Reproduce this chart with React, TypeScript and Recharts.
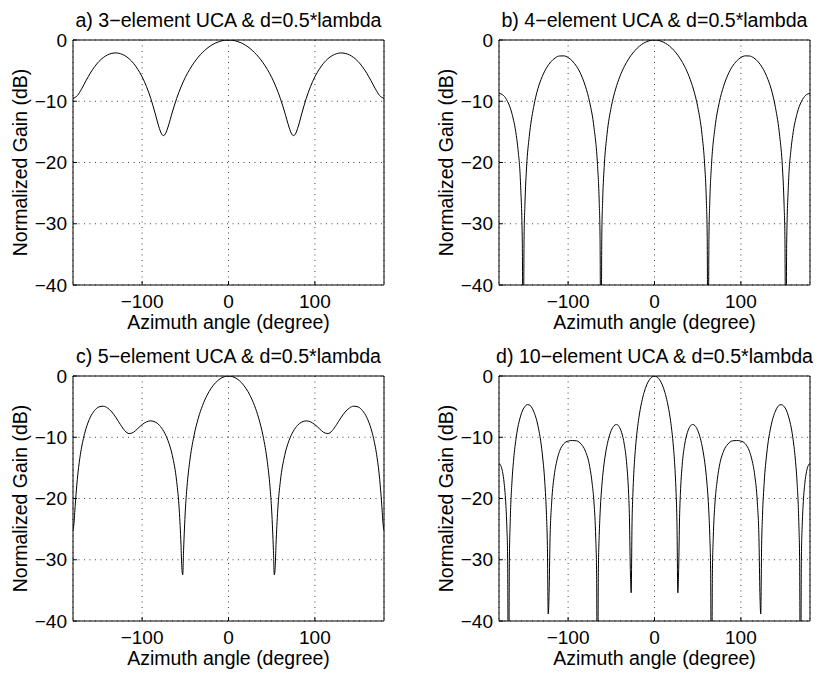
import React from 'react';
import { LineChart, Line, XAxis, YAxis, CartesianGrid } from 'recharts';

// Tick values
const xTicks = [-100, 0, 100];
const yTicks = [-40, -30, -20, -10, 0];

// Panel titles
const titleA = 'a) 3\u2212element UCA & d=0.5*lambda';
const titleB = 'b) 4\u2212element UCA & d=0.5*lambda';
const titleC = 'c) 5\u2212element UCA & d=0.5*lambda';
const titleD = 'd) 10\u2212element UCA & d=0.5*lambda';
const xLabel = 'Azimuth angle (degree)';
const yLabel = 'Normalized Gain (dB)';

// a) 3-element
const anglesA = [
  -180, -175, -170, -165, -160, -155, -150, -145, -140, -135,
  -130, -125, -120, -115, -110, -105, -100, -95, -90, -85,
  -80, -78, -76, -75, -74, -72, -70, -65, -60, -55,
  -50, -45, -40, -35, -30, -25, -20, -15, -10, -5,
  0,
  5, 10, 15, 20, 25, 30, 35, 40, 45, 50,
  55, 60, 65, 70, 72, 74, 75, 76, 78, 80,
  85, 90, 95, 100, 105, 110, 115, 120, 125, 130,
  135, 140, 145, 150, 155, 160, 165, 170, 175, 180,
];
const gainA = [
  -9.54, -9.08, -7.97, -6.66, -5.42, -4.36, -3.51, -2.87, -2.43, -2.18,
  -2.11, -2.24, -2.55, -3.07, -3.8, -4.78, -6.01, -7.58, -9.54, -11.93,
  -14.44, -15.19, -15.58, -15.61, -15.52, -15.01, -14.2, -11.77, -9.54, -7.67,
  -6.11, -4.81, -3.72, -2.8, -2.03, -1.39, -0.88, -0.49, -0.22, -0.05,
  0,
  -0.05, -0.22, -0.49, -0.88, -1.39, -2.03, -2.8, -3.72, -4.81, -6.11,
  -7.67, -9.54, -11.77, -14.2, -15.01, -15.52, -15.61, -15.58, -15.19, -14.44,
  -11.93, -9.54, -7.58, -6.01, -4.78, -3.8, -3.07, -2.55, -2.24, -2.11,
  -2.18, -2.43, -2.87, -3.51, -4.36, -5.42, -6.66, -7.97, -9.08, -9.54,
];

// b) 4-element
const anglesB = [
  -180, -175, -170, -165, -160, -158, -155, -153, -152, -151,
  -150, -148, -145, -140, -135, -130, -125, -120, -115, -110,
  -105, -100, -95, -90, -85, -80, -75, -70, -66, -64,
  -63, -62, -61, -60, -58, -55, -50, -45, -40, -35,
  -30, -25, -20, -15, -10, -5,
  0,
  5, 10, 15, 20, 25, 30, 35, 40, 45, 50,
  55, 58, 60, 61, 62, 63, 64, 66, 70, 75,
  80, 85, 90, 95, 100, 105, 110, 115, 120, 125,
  130, 135, 140, 145, 148, 150, 151, 152, 153, 155,
  158, 160, 165, 170, 175, 180,
];
const gainB = [
  -8.71, -9.03, -10.06, -12.02, -15.57, -17.87, -23.71, -33.25, -60, -32.54,
  -26.92, -20.6, -15.78, -11.02, -7.97, -5.98, -4.55, -3.56, -2.93, -2.61,
  -2.59, -2.86, -3.44, -4.35, -5.67, -7.54, -10.19, -14.31, -20.35, -26.43,
  -32.58, -60, -32.04, -26.16, -20.22, -15.43, -10.89, -8.01, -5.93, -4.35,
  -3.1, -2.11, -1.33, -0.74, -0.33, -0.08,
  0,
  -0.08, -0.33, -0.74, -1.33, -2.11, -3.1, -4.35, -5.93, -8.01, -10.89,
  -15.43, -20.22, -26.16, -32.04, -60, -32.58, -26.43, -20.35, -14.31, -10.19,
  -7.54, -5.67, -4.35, -3.44, -2.86, -2.59, -2.61, -2.93, -3.56, -4.55,
  -5.98, -7.97, -11.02, -15.78, -20.6, -26.92, -32.54, -60, -33.25, -23.71,
  -17.87, -15.57, -12.02, -10.06, -9.03, -8.71,
];

// c) 5-element
const anglesC = [
  -180, -179, -178, -177, -175, -172, -170, -168, -165, -160,
  -155, -150, -145, -140, -135, -130, -125, -120, -115, -110,
  -105, -100, -95, -90, -85, -80, -75, -70, -65, -60,
  -57, -55, -54, -53, -52, -50, -48, -45, -40, -35,
  -30, -25, -20, -15, -10, -5,
  0,
  5, 10, 15, 20, 25, 30, 35, 40, 45, 48,
  50, 52, 53, 54, 55, 57, 60, 65, 70, 75,
  80, 85, 90, 95, 100, 105, 110, 115, 120, 125,
  130, 135, 140, 145, 150, 155, 160, 165, 168, 170,
  172, 175, 177, 178, 179, 180,
];
const gainC = [
  -25.2, -24.27, -22.29, -20.26, -16.87, -13.33, -11.61, -10.23, -8.61, -6.75,
  -5.63, -5.05, -4.93, -5.22, -5.88, -6.84, -7.95, -8.94, -9.4, -9.19,
  -8.57, -7.94, -7.49, -7.33, -7.5, -8.04, -9.02, -10.56, -12.98, -17.22,
  -21.89, -27.52, -31.31, -32.47, -28.48, -22.03, -18.03, -14.07, -9.79, -6.91,
  -4.79, -3.19, -1.98, -1.09, -0.48, -0.12,
  0,
  -0.12, -0.48, -1.09, -1.98, -3.19, -4.79, -6.91, -9.79, -14.07, -18.03,
  -22.03, -28.48, -32.47, -31.31, -27.52, -21.89, -17.22, -12.98, -10.56, -9.02,
  -8.04, -7.5, -7.33, -7.49, -7.94, -8.57, -9.19, -9.4, -8.94, -7.95,
  -6.84, -5.88, -5.22, -4.93, -5.05, -5.63, -6.75, -8.61, -10.23, -11.61,
  -13.33, -16.87, -20.26, -22.29, -24.27, -25.2,
];

// d) 10-element
const anglesD = [
  -180, -178, -176, -174, -172, -171, -170, -169, -168, -167,
  -165, -163, -160, -155, -150, -147, -145, -140, -135, -130,
  -127, -125, -124, -123, -122, -121, -119, -116, -113, -110,
  -105, -100, -95, -90, -85, -80, -75, -72, -70, -68,
  -67, -66, -65, -64, -63, -61, -59, -56, -53, -50,
  -47, -44, -41, -38, -35, -32, -30, -29, -28, -27,
  -26, -25, -24, -22, -20, -18, -15, -12, -9, -6,
  -3,
  0,
  3, 6, 9, 12, 15, 18, 20, 22, 24, 25,
  26, 27, 28, 29, 30, 32, 35, 38, 41, 44,
  47, 50, 53, 56, 59, 61, 63, 64, 65, 66,
  67, 68, 70, 72, 75, 80, 85, 90, 95, 100,
  105, 110, 113, 116, 119, 121, 122, 123, 124, 125,
  127, 130, 135, 140, 145, 147, 150, 155, 160, 163,
  165, 167, 168, 169, 170, 171, 172, 174, 176, 178,
  180,
];
const gainD = [
  -14.26, -14.61, -15.59, -17.55, -21.17, -24.32, -29.87, -60, -30.17, -23.72,
  -17.3, -13.56, -9.94, -6.53, -4.97, -4.68, -4.72, -5.73, -8.08, -12.57,
  -17.33, -22.82, -27.64, -38.86, -35.34, -27.13, -20.6, -16.18, -13.81, -12.32,
  -11.05, -10.63, -10.53, -10.59, -11.11, -12.26, -14.79, -17.73, -20.73, -26.5,
  -32.29, -60, -32.08, -26.04, -22.48, -17.99, -15.05, -12.11, -10.15, -8.87,
  -8.14, -7.91, -8.26, -9.26, -11.14, -14.62, -19.13, -23.14, -31.37, -35.4,
  -23.94, -19.16, -15.95, -11.74, -8.87, -6.73, -4.37, -2.67, -1.44, -0.63,
  -0.16,
  0,
  -0.16, -0.63, -1.44, -2.67, -4.37, -6.73, -8.87, -11.74, -15.95, -19.16,
  -23.94, -35.4, -31.37, -23.14, -19.13, -14.62, -11.14, -9.26, -8.26, -7.91,
  -8.14, -8.87, -10.15, -12.11, -15.05, -17.99, -22.48, -26.04, -32.08, -60,
  -32.29, -26.5, -20.73, -17.73, -14.79, -12.26, -11.11, -10.59, -10.53, -10.63,
  -11.05, -12.32, -13.81, -16.18, -20.6, -27.13, -35.34, -38.86, -27.64, -22.82,
  -17.33, -12.57, -8.08, -5.73, -4.72, -4.68, -4.97, -6.53, -9.94, -13.56,
  -17.3, -23.72, -30.17, -60, -29.87, -24.32, -21.17, -17.55, -15.59, -14.61,
  -14.26,
];

const FONT = '"Liberation Sans", Arial, Helvetica, sans-serif';

function fmt(v: number): string {
  return v < 0 ? '\u2212' + Math.abs(v) : String(v);
}

type PanelProps = {
  left: number;
  top: number;
  title: string;
  angles: number[];
  gains: number[];
};

function Panel({ left, top, title, angles, gains }: PanelProps) {
  const data = angles.map((deg, i) => ({ deg, gain: gains[i] }));
  return (
    <div style={{ position: 'absolute', left, top, width: 392, height: 336 }}>
      <div
        style={{
          position: 'absolute',
          left: 63,
          width: 331,
          top: 11,
          fontSize: 19.6,
          lineHeight: '19.6px',
          textAlign: 'center',
          whiteSpace: 'nowrap',
          color: '#000',
        }}
      >
        {title}
      </div>
      <LineChart
        width={392}
        height={336}
        data={data}
        margin={{ top: 39, right: 7, bottom: 0, left: 13 }}
      >
        <CartesianGrid stroke="#444" strokeDasharray="1 4.5" />
        <XAxis
          dataKey="deg"
          type="number"
          domain={[-180, 180]}
          ticks={xTicks}
          interval={0}
          allowDataOverflow
          height={51}
          tickSize={-4}
          tickMargin={14}
          tickFormatter={fmt}
          tick={{ fill: '#000', fontSize: 19 }}
          stroke="#000"
          label={{
            value: xLabel,
            position: 'insideBottom',
            offset: 7,
            fill: '#000',
            fontSize: 19.5,
          }}
        />
        <XAxis
          xAxisId="top"
          orientation="top"
          dataKey="deg"
          type="number"
          domain={[-180, 180]}
          ticks={xTicks}
          interval={0}
          allowDataOverflow
          height={1}
          tickSize={-4}
          tick={false}
          stroke="#000"
        />
        <YAxis
          type="number"
          domain={[-40, 0]}
          ticks={yTicks}
          interval={0}
          allowDataOverflow
          width={60}
          tickSize={-4}
          tickMargin={10}
          tickFormatter={fmt}
          tick={{ fill: '#000', fontSize: 19 }}
          stroke="#000"
          label={{
            value: yLabel,
            angle: -90,
            position: 'insideLeft',
            offset: 7.4,
            fill: '#000',
            fontSize: 19.5,
            style: { textAnchor: 'middle' },
          }}
        />
        <YAxis
          yAxisId="right"
          orientation="right"
          type="number"
          domain={[-40, 0]}
          ticks={yTicks}
          interval={0}
          allowDataOverflow
          width={1}
          tickSize={-4}
          tick={false}
          stroke="#000"
        />
        <Line
          type="monotone"
          dataKey="gain"
          stroke="#000"
          strokeWidth={1}
          dot={false}
          isAnimationActive={false}
        />
      </LineChart>
    </div>
  );
}

export default function App() {
  return (
    <div
      style={{
        position: 'absolute',
        left: 0,
        top: 0,
        width: 818,
        height: 675,
        background: '#fff',
        overflow: 'hidden',
        fontFamily: FONT,
      }}
    >
      <Panel left={0} top={0} title={titleA} angles={anglesA} gains={gainA} />
      <Panel left={426} top={0} title={titleB} angles={anglesB} gains={gainB} />
      <Panel left={0} top={336} title={titleC} angles={anglesC} gains={gainC} />
      <Panel left={426} top={336} title={titleD} angles={anglesD} gains={gainD} />
    </div>
  );
}
